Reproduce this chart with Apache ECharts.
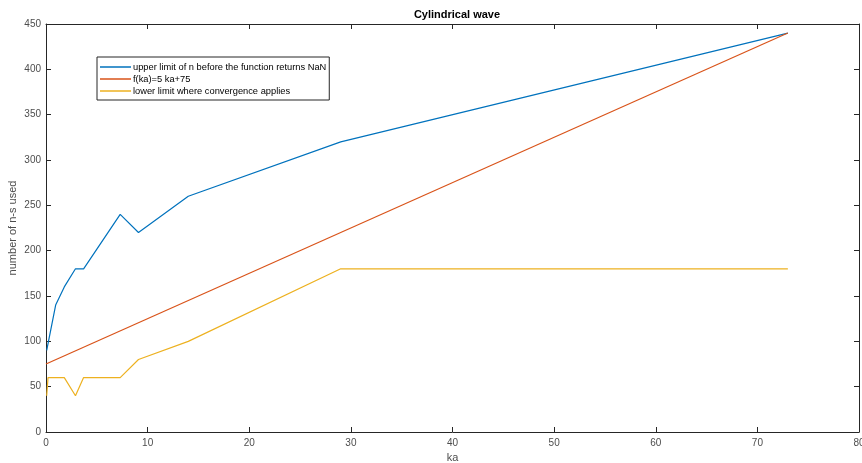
<!DOCTYPE html>
<html>
<head>
<meta charset="utf-8">
<script src="https://cdn.jsdelivr.net/npm/echarts@6/dist/echarts.min.js"></script>
<style>
  html, body { margin: 0; padding: 0; background: #fff; }
  #chart { width: 862px; height: 463px; }
</style>
</head>
<body>
<div id="chart"></div>
<script>
// Upper limit of n before the function returns NaN
const upperKa = [0.07, 0.95, 1.8, 2.9, 3.7, 7.3, 9.1, 14, 29, 73];
const upperN  = [90, 140, 160, 180, 180, 240, 220, 260, 320, 440];

// f(ka) = 5 ka + 75, drawn between its end points
const fitKa = [0, 73];
const fitN  = [75, 440];

// Lower limit where convergence applies
const lowerKa = [0.07, 0.2, 1.8, 2.9, 3.7, 7.3, 9.1, 14, 29, 73];
const lowerN  = [40, 60, 60, 40, 60, 60, 80, 100, 180, 180];

const xTicks = [0, 10, 20, 30, 40, 50, 60, 70, 80];
const yTicks = [0, 50, 100, 150, 200, 250, 300, 350, 400, 450];

const seriesNames = [
  'upper limit of n before the function returns NaN',
  'f(ka)=5 ka+75',
  'lower limit where convergence applies'
];
const colors = ['#0072BD', '#D95319', '#EDB120'];

const pairs = (xs, ys) => xs.map((x, i) => [x, ys[i]]);

const font = '"Liberation Sans", Arial, Helvetica, sans-serif';
const axisColor = '#262626';
const textColor = '#4d4d4d';

const chart = echarts.init(document.getElementById('chart'), null, { renderer: 'canvas' });

const baseX = {
  type: 'value',
  min: xTicks[0],
  max: xTicks[xTicks.length - 1],
  interval: 10,
  splitLine: { show: false },
  axisLine: { show: true, onZero: false, lineStyle: { color: axisColor, width: 1 } },
  axisTick: { show: true, inside: true, length: 5, lineStyle: { color: axisColor } }
};
const baseY = {
  type: 'value',
  min: yTicks[0],
  max: yTicks[yTicks.length - 1],
  interval: 50,
  splitLine: { show: false },
  axisLine: { show: true, onZero: false, lineStyle: { color: axisColor, width: 1 } },
  axisTick: { show: true, inside: true, length: 5, lineStyle: { color: axisColor } }
};

chart.setOption({
  animation: false,
  backgroundColor: '#ffffff',
  color: colors,
  title: {
    text: 'Cylindrical wave',
    left: 452,
    top: 4,
    textAlign: 'center',
    textStyle: { fontFamily: font, fontSize: 11, fontWeight: 'bold', color: '#000' }
  },
  grid: { left: 46, right: 3, top: 24, bottom: 31, containLabel: false, outerBoundsMode: 'none' },
  legend: {
    orient: 'vertical',
    left: 97,
    top: 57,
    data: seriesNames,
    icon: 'rect',
    itemWidth: 31,
    itemHeight: 1.5,
    itemGap: 0,
    padding: [4, 3, 3, 3],
    borderColor: axisColor,
    borderWidth: 1,
    backgroundColor: '#fff',
    textStyle: { fontFamily: font, fontSize: 9.3, color: '#000', lineHeight: 12, padding: [0, 0, 0, -3] }
  },
  xAxis: [
    Object.assign({}, baseX, {
      position: 'bottom',
      name: 'ka',
      nameLocation: 'middle',
      nameGap: 20,
      nameMoveOverlap: false,
      nameTextStyle: { fontFamily: font, fontSize: 11, color: textColor },
      axisLabel: { fontFamily: font, fontSize: 10, color: textColor, margin: 6 }
    }),
    Object.assign({}, baseX, { position: 'top', axisLabel: { show: false } })
  ],
  yAxis: [
    Object.assign({}, baseY, {
      position: 'left',
      name: 'number of n-s used',
      nameLocation: 'middle',
      nameGap: 28,
      nameMoveOverlap: false,
      nameTextStyle: { fontFamily: font, fontSize: 11, color: textColor },
      axisLabel: { fontFamily: font, fontSize: 10, color: textColor, margin: 5 }
    }),
    Object.assign({}, baseY, { position: 'right', axisLabel: { show: false } })
  ],
  series: [
    { name: seriesNames[0], type: 'line', data: pairs(upperKa, upperN) },
    { name: seriesNames[1], type: 'line', data: pairs(fitKa, fitN) },
    { name: seriesNames[2], type: 'line', data: pairs(lowerKa, lowerN) }
  ].map((s, i) => Object.assign(s, {
    showSymbol: false,
    symbol: 'none',
    lineStyle: { width: 1.2, color: colors[i] },
    itemStyle: { color: colors[i] }
  }))
});
</script>
</body>
</html>
